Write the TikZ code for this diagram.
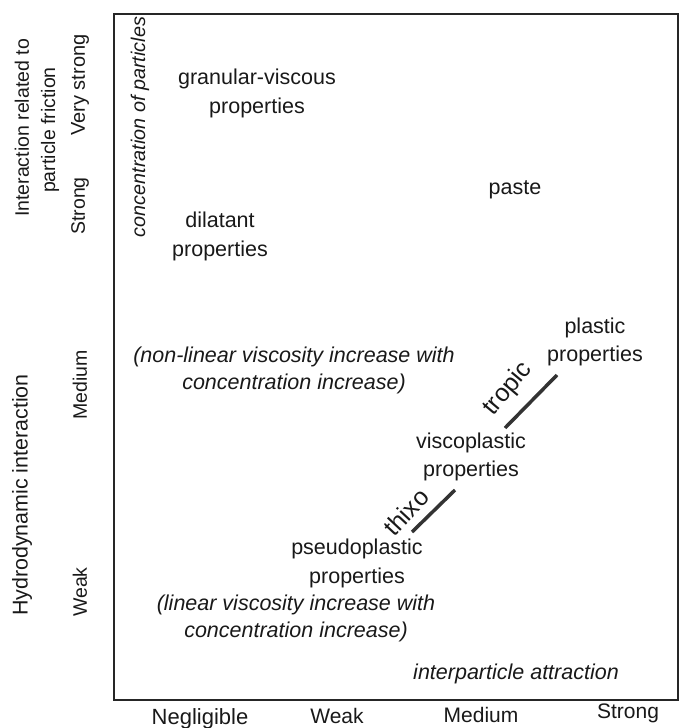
\documentclass[tikz,border=0pt]{standalone}
\usepackage{fontspec}
\setmainfont{Liberation Sans}
\begin{document}
\begin{tikzpicture}[x=1pt,y=-1pt,
  lbl/.style={inner sep=0pt, font=\fontsize{21.5}{28.5}\selectfont, align=center, text=black!90},
  ilbl/.style={lbl, font=\fontsize{21.5}{27}\selectfont\itshape},
  axl/.style={inner sep=0pt, font=\fontsize{19.5}{24}\selectfont, text=black!90, rotate=90},
  botl/.style={inner sep=0pt, font=\fontsize{21}{24}\selectfont, text=black!90},
  diag/.style={inner sep=0pt, font=\fontsize{25}{28}\selectfont, text=black!90},
  bar/.style={line width=3.5pt, black!80}]
\useasboundingbox (0,0) rectangle (681,728);
\draw[line width=1.8pt, black!85] (114,14) rectangle (678,700);
% left axis labels
\node[axl] (irt) at (22,128) {Interaction related to};
\node[axl] (pf) at (50,130) {particle friction};
\node[axl, font=\fontsize{20}{24}\selectfont] (vs) at (80,85) {Very strong};
\node[axl] (st) at (80,206) {Strong};
\node[axl] (md) at (80,385) {Medium};
\node[axl] (wk) at (80,592) {Weak};
\node[axl, font=\fontsize{21.4}{24}\selectfont] (hi) at (22,495) {Hydrodynamic interaction};
\node[axl, font=\fontsize{19.8}{24}\selectfont\itshape] (cp) at (140,127) {concentration of particles};
% bottom labels
\node[botl, font=\fontsize{22}{24}\selectfont] (ng) at (200,719) {Negligible};
\node[botl] (bw) at (337,716) {Weak};
\node[botl] (bm) at (481,715) {Medium};
\node[botl] (bs) at (628,713) {Strong};
% inside
\node[lbl] (gv) at (257,93.5) {granular-viscous\\properties};
\node[lbl] (dl) at (220,236.5) {dilatant\\properties};
\node[lbl] (pa) at (515,190) {paste};
\node[ilbl] (nl) at (294,370) {(non-linear viscosity increase with\\concentration increase)};
\node[lbl] (pl) at (595,342) {plastic\\properties};
\node[lbl] (vp) at (471,457) {viscoplastic\\properties};
\node[lbl] (ps) at (357,563.5) {pseudoplastic\\properties};
\node[ilbl] (li) at (296,618) {(linear viscosity increase with\\concentration increase)};
\node[ilbl] (ia) at (516,674) {interparticle attraction};
\node[diag, rotate=50] (tr) at (508,389) {tropic};
\node[diag, rotate=47] (th) at (406,512) {thixo};
\coordinate (t1) at (505,428);
\coordinate (t2) at (557,375);
\coordinate (h1) at (412,532);
\coordinate (h2) at (455,490);
\draw[bar] (t1) -- (t2);
\draw[bar] (h1) -- (h2);
\end{tikzpicture}
\end{document}
